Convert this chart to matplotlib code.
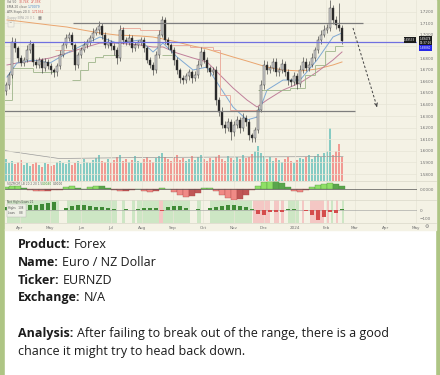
import matplotlib
matplotlib.use("Agg")
import matplotlib.pyplot as plt
import matplotlib.dates as mdates
import matplotlib.transforms as mtrans
from matplotlib.patches import Rectangle
from matplotlib.lines import Line2D
from matplotlib.ticker import FuncFormatter
import pandas as pd

W, H = 440, 375

candle_start = "2023-03-18"
first_open = 1.6520
closes = [1.6567, 1.6654, 1.6938, 1.6886, 1.6800, 1.6757, 1.6783, 1.6869, 1.6921, 1.6766,
          1.6740, 1.6783, 1.6714, 1.6766, 1.6731, 1.6697, 1.6679, 1.6731, 1.6826, 1.6912,
          1.6972, 1.6998, 1.6912, 1.6740, 1.6826, 1.6869, 1.6912, 1.6938, 1.6972, 1.7016,
          1.7041, 1.7076, 1.6998, 1.6912, 1.6938, 1.6903, 1.6869, 1.6800, 1.7041, 1.6955,
          1.6938, 1.6972, 1.6886, 1.6912, 1.6938, 1.6955, 1.6886, 1.6783, 1.6740, 1.6697,
          1.6826, 1.6998, 1.7128, 1.6955, 1.6912, 1.6869, 1.6783, 1.6697, 1.6628, 1.6610,
          1.6645, 1.6679, 1.6628, 1.6654, 1.6740, 1.6852, 1.6783, 1.6714, 1.6679, 1.6697,
          1.6438, 1.6335, 1.6223, 1.6197, 1.6248, 1.6162, 1.6223, 1.6266, 1.6197, 1.6283,
          1.6248, 1.6136, 1.6110, 1.6179, 1.6352, 1.6567, 1.6740, 1.6697, 1.6714, 1.6766,
          1.6679, 1.6697, 1.6748, 1.6679, 1.6610, 1.6593, 1.6645, 1.6576, 1.6697, 1.6766,
          1.6714, 1.6740, 1.6800, 1.6869, 1.6955, 1.6998, 1.7041, 1.7059, 1.7231, 1.7128,
          1.7084, 1.7059, 1.6948]
# wicks beyond the body, in pips
wick_up = [30, 25, 40, 35, 20, 30, 25, 40, 30, 20,
           25, 30, 20, 35, 25, 30, 20, 25, 40, 30,
           35, 25, 30, 20, 30, 25, 35, 30, 25, 40,
           30, 45, 25, 30, 35, 20, 25, 30, 45, 25,
           30, 35, 25, 30, 20, 30, 25, 20, 30, 25,
           35, 40, 35, 25, 30, 20, 25, 30, 20, 25,
           30, 25, 20, 35, 40, 45, 25, 30, 20, 25,
           30, 25, 40, 30, 35, 25, 30, 35, 25, 40,
           30, 25, 20, 30, 35, 40, 45, 30, 25, 35,
           30, 25, 40, 30, 25, 20, 35, 25, 40, 45,
           30, 35, 40, 30, 35, 40, 45, 30, 65, 30,
           35, 190, 25]
wick_dn = [35, 30, 25, 30, 35, 25, 30, 20, 25, 35,
           30, 25, 40, 25, 30, 35, 45, 30, 25, 20,
           30, 25, 35, 40, 25, 30, 20, 25, 30, 25,
           20, 30, 35, 30, 25, 35, 40, 50, 25, 30,
           25, 30, 35, 25, 30, 25, 35, 30, 25, 40,
           30, 25, 20, 30, 35, 30, 40, 35, 45, 30,
           25, 35, 40, 30, 25, 20, 30, 35, 30, 25,
           40, 35, 30, 45, 25, 69, 30, 25, 40, 30,
           35, 40, 34, 30, 25, 20, 30, 35, 25, 30,
           35, 30, 25, 35, 40, 30, 25, 45, 30, 25,
           30, 25, 20, 30, 25, 30, 20, 25, 30, 35,
           30, 25, 30]
volume = [22, 18, 20, 17, 19, 21, 16, 18, 15, 17,
          19, 16, 14, 18, 17, 15, 16, 19, 20, 18,
          17, 21, 16, 18, 20, 17, 22, 19, 18, 21,
          23, 26, 20, 19, 22, 18, 21, 24, 26, 20,
          22, 19, 21, 25, 20, 18, 22, 24, 21, 19,
          23, 25, 28, 24, 22, 20, 24, 26, 21, 23,
          20, 22, 25, 21, 24, 26, 22, 20, 23, 21,
          24, 26, 22, 20, 25, 23, 21, 24, 22, 26,
          23, 24, 27, 30, 35, 28, 25, 22, 24, 20,
          23, 21, 19, 22, 24, 20, 18, 21, 23, 22,
          24, 26, 22, 25, 27, 24, 28, 30, 53, 26,
          30, 37, 24]
vol_ma_dates = ["2023-03-16", "2023-05-10", "2023-08-01", "2023-11-01", "2024-02-18"]
vol_ma = [30, 22, 23, 23.5, 24]

# moving averages
ma_dates = ["2023-03-19", "2023-03-29", "2023-04-14", "2023-05-01", "2023-05-18", "2023-06-03",
            "2023-06-20", "2023-07-07", "2023-07-30", "2023-08-12", "2023-08-22", "2023-09-05",
            "2023-09-21", "2023-10-05", "2023-10-18", "2023-10-31", "2023-11-14", "2023-11-24",
            "2023-12-04", "2023-12-20", "2024-01-06", "2024-01-23", "2024-02-08", "2024-02-17"]
ema_fast = [1.6636, 1.6757, 1.6783, 1.6757, 1.6843, 1.6912, 1.6981, 1.6929, 1.6955, 1.6852,
            1.6929, 1.6809, 1.6697, 1.6722, 1.6550, 1.6378, 1.6266, 1.6291, 1.6524, 1.6610,
            1.6610, 1.6783, 1.6981, 1.7016]
ema_slow = [1.6740, 1.6757, 1.6774, 1.6800, 1.6843, 1.6886, 1.6929, 1.6929, 1.6912, 1.6895,
            1.6895, 1.6843, 1.6800, 1.6766, 1.6654, 1.6542, 1.6438, 1.6378, 1.6438, 1.6524,
            1.6585, 1.6679, 1.6783, 1.6852]
sma_long = [1.7128, 1.7119, 1.7102, 1.7084, 1.7067, 1.7041, 1.7016, 1.6998, 1.6990, 1.6981,
            1.6964, 1.6938, 1.6903, 1.6878, 1.6843, 1.6809, 1.6774, 1.6748, 1.6722, 1.6697,
            1.6688, 1.6705, 1.6740, 1.6766]

# ATR trailing stop (g = below price, r = above price)
atr_dates = ["2023-03-16", "2023-03-24", "2023-04-14", "2023-05-06", "2023-05-23", "2023-05-31",
             "2023-06-08", "2023-06-15", "2023-06-23", "2023-07-10", "2023-07-30", "2023-08-21",
             "2023-08-31", "2023-09-18", "2023-10-11", "2023-10-18", "2023-10-28", "2023-11-25",
             "2023-12-27", "2024-01-11", "2024-01-21", "2024-01-31", "2024-02-10"]
atr_level = [1.6438, 1.6714, 1.6679, 1.6869, 1.6610, 1.6697, 1.6766, 1.6809, 1.6826, 1.7059,
             1.7041, 1.6826, 1.6912, 1.6895, 1.6869, 1.6481, 1.6352, 1.6524, 1.6542, 1.6654,
             1.6740, 1.6860, 1.6900]
atr_side = ["g", "g", "g", "r", "g", "g", "g", "g", "g", "r", "r", "g",
            "r", "r", "r", "r", "r", "g", "g", "g", "g", "g", "g"]
atr_end = "2024-02-18"

# drawings
range_top = 1.7102
range_bottom = 1.6343
blue_level = 1.6938

# squeeze momentum and net highs/lows, sampled every 6 days
osc_start = "2023-03-18"
momentum = [0.0020, 0.0030, 0.0030, 0.0010, -0.0010, -0.0020, -0.0025, -0.0020, -0.0015, -0.0005,
            0.0020, 0.0030, 0.0015, 0.0005, 0.0020, 0.0035, 0.0030, 0.0010, -0.0010, -0.0025,
            -0.0020, -0.0010, 0.0005, -0.0020, -0.0035, -0.0020, 0.0015, 0.0005, -0.0030, -0.0060,
            -0.0080, -0.0070, -0.0040, 0.0010, 0.0010, -0.0020, -0.0060, -0.0090, -0.0110, -0.0100,
            -0.0060, -0.0010, 0.0030, 0.0070, 0.0090, 0.0085, 0.0060, 0.0020, -0.0020, -0.0030,
            -0.0010, 0.0020, 0.0040, 0.0055, 0.0060, 0.0050, 0.0030]
net_hl = [30, 40, 45, 50, 55, 60, 70, 75, 85, 5,
          20, 40, 55, 60, 45, 35, 30, 25, 15, 5,
          8, 5, 15, 20, 25, 20, -10, 30, 45, 40,
          25, 5, 10, -3, 20, 30, 40, 55, 60, 45,
          30, 10, -40, -50, -20, -25, -20, 10, 15, 5,
          -10, -60, -110, -80, -20, -30, 10]
green_spans = [("2023-03-19", "2023-05-10"), ("2023-05-18", "2023-07-07"), ("2023-07-12", "2023-07-15"),
               ("2023-07-22", "2023-07-25"), ("2023-07-27", "2023-08-18"), ("2023-08-22", "2023-09-18"),
               ("2023-09-25", "2023-09-29"), ("2023-10-08", "2023-11-19"), ("2023-12-25", "2024-01-05"),
               ("2024-02-06", "2024-02-08"), ("2024-02-17", "2024-02-19")]
red_spans = [("2023-08-18", "2023-08-22"), ("2023-11-20", "2023-12-07"), ("2023-12-11", "2023-12-16"),
             ("2023-12-18", "2023-12-21"), ("2024-01-08", "2024-01-10"), ("2024-01-16", "2024-01-30"),
             ("2024-02-02", "2024-02-04"), ("2024-02-11", "2024-02-13")]

# 1.69 sits under the last-price box, so it gets a grid line but no label
price_ticks = [1.58, 1.59, 1.60, 1.61, 1.62, 1.63, 1.64, 1.65, 1.66, 1.67, 1.68, 1.69, 1.70, 1.71, 1.72]
hidden_tick = 1.69

post = [("Product:", "Forex"), ("Name:", "Euro / NZ Dollar"), ("Ticker:", "EURNZD"),
        ("Exchange:", "N/A")]
analysis = ["After failing to break out of the range, there is a good",
            "chance it might try to head back down."]

BG = "#f4f2e5"
GRID = "#e7e5d6"
AXIS_TXT = "#707070"


def rect(x, y, w, h):
    return [x / W, 1 - (y + h) / H, w / W, h / H]


def ftext(x, y, s, **kw):
    return fig.text(x / W, 1 - y / H, s, va="center", **kw)


fig = plt.figure(figsize=(W / 100, H / 100), dpi=100)
fig.patch.set_facecolor("#aec584")
fig.add_artist(Rectangle((5 / W, 0), 430 / W, 1 - 229 / H, color="white", zorder=-10))
fig.add_artist(Rectangle((5 / W, 1 - 229.5 / H), 431 / W, 229.5 / H, color=BG, zorder=-10))

axv = fig.add_axes(rect(5, 118, 412, 62.5))
ax = fig.add_axes(rect(5, 0, 412, 181), sharex=axv)
axm = fig.add_axes(rect(5, 181, 412, 18.5), sharex=axv)
axn = fig.add_axes(rect(5, 199.5, 412, 23), sharex=axv)
for a in (ax, axv, axm, axn):
    a.set_facecolor("none")
    for s in a.spines.values():
        s.set_visible(False)
axv.set_zorder(0)
ax.set_zorder(1)

# candles
dates = pd.date_range(candle_start, periods=len(closes), freq="3D")
opens = [first_open] + closes[:-1]
highs = [max(o, c) + u / 10000 for o, c, u in zip(opens, closes, wick_up)]
lows = [min(o, c) - d / 10000 for o, c, d in zip(opens, closes, wick_dn)]
up = [c >= o for o, c in zip(opens, closes)]
ax.vlines(dates, lows, highs, color="#3a3a3a", lw=0.45, zorder=3)
bodies = [c - o if abs(c - o) > 0.0002 else 0.0002 for o, c in zip(opens, closes)]
ax.bar(dates, bodies, bottom=opens, width=1.9,
       color=["#cfcfcf" if u else "#272727" for u in up],
       edgecolor="#3a3a3a", lw=0.3, zorder=4)

# volume overlay
axv.bar(dates, volume, width=2.4, color=["#86cbc3" if u else "#f19a93" for u in up], lw=0)
axv.plot(pd.to_datetime(vol_ma_dates), vol_ma, color="#9a9a9a", lw=0.5)
axv.set_ylim(0, 62.5)
axv.set_yticks([])
axv.tick_params(axis="x", length=0, labelbottom=False)

# moving averages
md = pd.to_datetime(ma_dates)
ax.plot(md, sma_long, color="#eaa56e", lw=0.7, zorder=2)
ax.plot(md, ema_slow, color="#c07f9a", lw=0.7, zorder=2)
ax.plot(md, ema_fast, color="#7fa9d4", lw=0.7, zorder=2)

# ATR stops as steps
ad = list(pd.to_datetime(atr_dates)) + [pd.Timestamp(atr_end)]
for i in range(len(atr_level)):
    col = "#9db58a" if atr_side[i] == "g" else "#eaa596"
    ax.hlines(atr_level[i], ad[i], ad[i + 1], color=col, lw=0.6, zorder=2)
    if i > 0 and atr_side[i] == atr_side[i - 1]:
        ax.vlines(ad[i], atr_level[i - 1], atr_level[i], color=col, lw=0.6, zorder=2)

# horizontal range lines and projection
ax.hlines(range_top, pd.Timestamp("2023-05-24"), pd.Timestamp("2024-03-09"), color="#7d7d7d", lw=0.9, zorder=5)
ax.hlines(range_bottom, pd.Timestamp("2023-03-16"), pd.Timestamp("2024-03-01"), color="#7d7d7d", lw=0.9, zorder=5)
ax.axhline(blue_level, color="#7070e0", lw=0.9, zorder=5)
p0 = (pd.Timestamp("2024-02-28"), 1.7059)
p1 = (pd.Timestamp("2024-03-23"), 1.6378)
ax.plot([p0[0], p1[0]], [p0[1], p1[1]], color="#444444", lw=0.7, ls=(0, (2.5, 2)), zorder=5)
ax.annotate("", xy=p1, xytext=(pd.Timestamp("2024-03-22"), 1.6410),
            arrowprops=dict(arrowstyle="->", color="#444444", lw=0.7, mutation_scale=5), zorder=5)

ax.set_xlim(pd.Timestamp("2023-03-17"), pd.Timestamp("2024-05-02"))
ax.set_ylim(1.5740, 1.7300)
ax.yaxis.tick_right()
ax.set_yticks(price_ticks)
ax.yaxis.set_major_formatter(FuncFormatter(lambda v, p: "" if abs(v - hidden_tick) < 1e-6 else f"{v:.4f}"))
ax.tick_params(axis="y", length=0, pad=2.2, labelsize=3, labelcolor=AXIS_TXT)
ax.tick_params(axis="x", length=0, labelbottom=False)
ax.grid(True, color=GRID, lw=0.5)
ax.set_axisbelow(True)

# price scale boxes
tr = mtrans.blended_transform_factory(ax.transAxes, ax.transData)
ax.text(0.969, 1.6955, "1.69533", transform=tr, fontsize=2, color="white", va="center",
        bbox=dict(boxstyle="square,pad=0.25", fc="#1b1b1b", ec="none"), clip_on=False, zorder=6)
ax.text(1.006, 1.6945, "1.69478\n15:37:16", transform=tr, fontsize=2, color="white", va="center",
        linespacing=1.1, bbox=dict(boxstyle="square,pad=0.3", fc="#1b1b1b", ec="none"), clip_on=False, zorder=6)
ax.text(1.006, 1.6886, "1.68860", transform=tr, fontsize=2, color="white", va="center",
        bbox=dict(boxstyle="square,pad=0.3", fc="#2727e8", ec="none"), clip_on=False, zorder=6)

# squeeze momentum
od = pd.date_range(osc_start, periods=len(momentum), freq="6D")
mcol, medge = [], []
for i, m in enumerate(momentum):
    prev = momentum[i - 1] if i else 0
    if m >= 0:
        mcol.append("#8fe066" if m >= prev else "#5aa64d")
        medge.append("#4b8a3e")
    else:
        mcol.append("#f08a86" if m <= prev else "#c05656")
        medge.append("#a84646")
axm.bar(od, momentum, width=5.6, color=mcol, edgecolor=medge, lw=0.25)
axm.axhline(0, color="#555555", lw=0.5)
axm.set_ylim(-0.011, 0.0085)
axm.yaxis.tick_right()
axm.set_yticks([0])
axm.yaxis.set_major_formatter(FuncFormatter(lambda v, p: "0.0000"))
axm.tick_params(axis="y", length=0, pad=2.2, labelsize=3, labelcolor=AXIS_TXT)
axm.tick_params(axis="x", length=0, labelbottom=False)
axm.grid(True, axis="x", color=GRID, lw=0.5)
axm.set_axisbelow(True)

# net highs / lows
for a, b in green_spans:
    axn.axvspan(pd.Timestamp(a), pd.Timestamp(b), color="#cde6c4", lw=0, zorder=0)
for a, b in red_spans:
    axn.axvspan(pd.Timestamp(a), pd.Timestamp(b), color="#f4c7c4", lw=0, zorder=0)
axn.bar(od, net_hl, width=4.5, color=["#3f8a36" if v >= 0 else "#d44c4c" for v in net_hl], lw=0, zorder=2)
axn.axhline(0, color="#9a9a9a", lw=0.4, zorder=1)
axn.set_ylim(-139, 117)
axn.yaxis.tick_right()
axn.set_yticks([0, -100])
axn.tick_params(axis="y", length=0, pad=2.2, labelsize=3, labelcolor=AXIS_TXT)
axn.xaxis.set_major_locator(mdates.MonthLocator())
axn.xaxis.set_major_formatter(FuncFormatter(
    lambda v, p: mdates.num2date(v).strftime("%Y" if mdates.num2date(v).month == 1 else "%b")))
axn.tick_params(axis="x", length=0, pad=2.2, labelsize=3, labelcolor=AXIS_TXT)
axn.grid(True, axis="x", color=GRID, lw=0.5)
axn.set_axisbelow(True)

# pane separators
for y in (181, 199.5, 222.5):
    fig.add_artist(Line2D([5 / W, 436 / W], [1 - y / H] * 2, color="#d9d7c9", lw=0.5))

# indicator legends
lg = dict(fontsize=2.2)
ftext(7, 2, "Vol 50", color="#666666", **lg)
ftext(19, 2, "30.74K", color="#d9534f", **lg)
ftext(31, 2, "27.35K", color="#d9534f", **lg)
ftext(7, 7, "EMA 20 close", color="#666666", **lg)
ftext(28, 7, "1.70079", color="#4a86c8", **lg)
ftext(7, 12, "ATR Stops 20 3", color="#666666", **lg)
ftext(32, 12, "1.71932", color="#d9534f", **lg)
ftext(7, 18, "Guppy EMA 20 0 1", color="#aaaaaa", **lg)
ftext(38, 18, "\u25a6", fontsize=3, color="#777777")
ftext(10.5, 24, "^", fontsize=3, color="#777777", ha="center",
      bbox=dict(boxstyle="square,pad=0.3", fc=BG, ec="#bbbbbb", lw=0.3))
ftext(7, 183.5, "SQZMOM_LB 20 2 20 1.5", fontsize=2.1, color="#666666")
ftext(42, 183.5, "0.0040", fontsize=2.1, color="#3f9a35")
ftext(53, 183.5, "0.0000", fontsize=2.1, color="#555555")
ftext(7, 202, "Net Highs/Lows 21", fontsize=2.1, color="#555555")
ftext(8.5, 210.5, "Highs   108\nLows     88", fontsize=2, color="#555555", linespacing=1.6,
      bbox=dict(boxstyle="square,pad=0.6", fc="#eef0e6", ec="#b5b5b5", lw=0.3))
ftext(427, 227, "\u2699", fontsize=3.5, color="#777777", ha="center")

# message text
renderer = fig.canvas.get_renderer()
text_kw = dict(fontsize=9.0, family="Open Sans", color="#1b1b1b")
line_y = [245, 262.5, 280, 297.5]
for (lab, val), y in zip(post, line_y):
    t = ftext(18, y, lab, fontweight="bold", **text_kw)
    bb = t.get_window_extent(renderer)
    ftext(bb.x1 + 3.4, y, val, **text_kw)
t = ftext(18, 334, "Analysis:", fontweight="bold", **text_kw)
bb = t.get_window_extent(renderer)
ftext(bb.x1 + 3.4, 334, analysis[0], **text_kw)
ftext(18, 351.5, analysis[1], **text_kw)

fig.savefig("out.png", dpi=100, facecolor=fig.get_facecolor())
